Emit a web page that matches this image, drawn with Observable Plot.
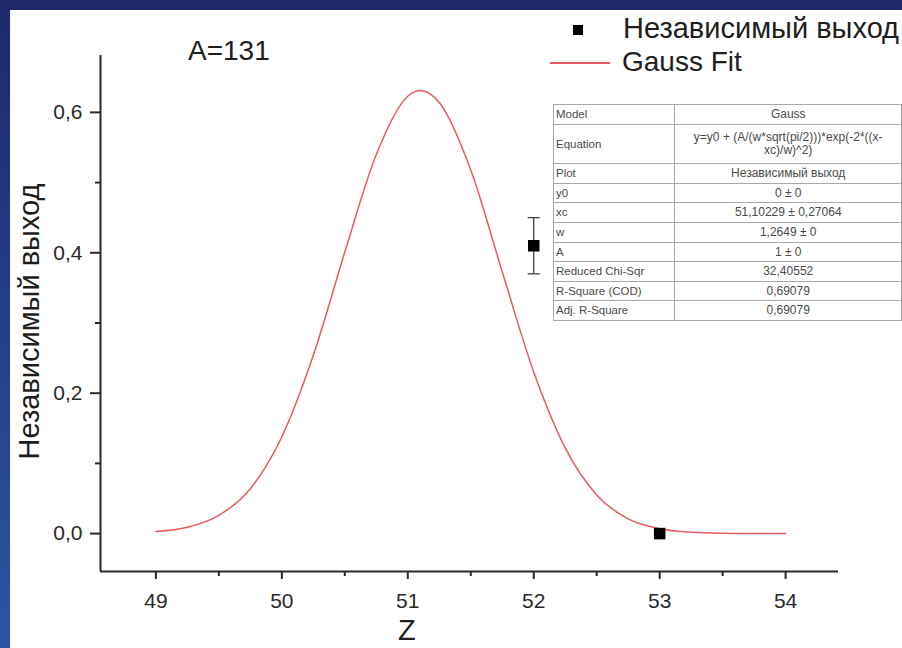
<!DOCTYPE html>
<html>
<head>
<meta charset="utf-8">
<script src="https://cdn.jsdelivr.net/npm/d3@7"></script>
<script src="https://cdn.jsdelivr.net/npm/@observablehq/plot@0.6"></script>
<style>
  html, body { margin: 0; padding: 0; }
  body {
    width: 902px; height: 648px; overflow: hidden; position: relative;
    background: linear-gradient(to bottom, #1e296b 0%, #243f8a 50%, #2b55a2 100%);
    font-family: "Liberation Sans", Arial, sans-serif; color: #1e1e1e;
  }
  #panel { position: absolute; left: 10px; top: 10px; width: 892px; height: 638px; background: #fff; }
  #chart { position: absolute; left: 0; top: 0; }
  .lbl { position: absolute; white-space: nowrap; line-height: 1; }
  #params { position: absolute; left: 553px; top: 104px; border-collapse: collapse;
    font-size: 11.5px; color: #4a4a4a; border: 1.5px solid #808080; table-layout: fixed; }
  #params td { border: 1px solid #a8a8a8; padding: 0 2px; line-height: 13px; white-space: nowrap; overflow: visible; }
  #params td.v { text-align: center; font-size: 12px; }
</style>
</head>
<body>
<div id="panel"><div id="chart"></div></div>
<script>
// ---- data ----
const seriesName = "Независимый выход";
const fitName = "Gauss Fit";
const massLabel = "A=131";
const xTitle = "Z";
const yTitle = "Независимый выход";

// measured points (Z, independent yield, error)
const pointZ = [52, 53];
const pointY = [0.41, 0.0];
const pointErr = [0.04, 0];

// Gauss fit curve
const fitZ = [49, 49.25, 49.5, 49.75, 50, 50.25, 50.5, 50.75, 51, 51.1, 51.25, 51.5, 51.75, 52, 52.25, 52.5, 52.75, 53, 53.25, 53.5, 53.75, 54];
const fitY = [0.003, 0.009, 0.026, 0.064, 0.138, 0.254, 0.401, 0.540, 0.623, 0.631, 0.614, 0.518, 0.373, 0.230, 0.122, 0.055, 0.021, 0.007, 0.002, 0.0005, 0.0001, 0.0];

// axes
const xDomain = [48.56, 54.42];
const yDomain = [-0.054, 0.681];
const xTicks = [49, 50, 51, 52, 53, 54];
const xMinorTicks = [49.5, 50.5, 51.5, 52.5, 53.5];
const yTicks = [0, 0.2, 0.4, 0.6];
const yMinorTicks = [0.1, 0.3, 0.5];

// fit parameter table
const tableKeys = ["Model", "Equation", "Plot", "y0", "xc", "w", "A", "Reduced Chi-Sqr", "R-Square (COD)", "Adj. R-Square"];
const tableVals = ["Gauss", "y=y0 + (A/(w*sqrt(pi/2)))*exp(-2*((x-\nxc)/w)^2)", "Независимый выход", "0 ± 0", "51,10229 ± 0,27064", "1,2649 ± 0", "1 ± 0", "32,40552", "0,69079", "0,69079"];

// ---- build ----
const points = pointZ.map((z, i) => ({z, y: pointY[i], e: pointErr[i]}));
const fit = fitZ.map((z, i) => ({z, y: fitY[i]}));
const errPoints = points.filter(d => d.e > 0);
const caps = errPoints.flatMap(d => [{z: d.z, y: d.y - d.e}, {z: d.z, y: d.y + d.e}]);
const capSymbol = {draw(ctx, size) { const w = Math.sqrt(size) * 0.9; ctx.moveTo(-w, 0); ctx.lineTo(w, 0); }};
const fmt = d => d.toFixed(1).replace(".", ",");
const red = "#e65a62";
const axisColor = "#2a2a2a";

const plot = Plot.plot({
  width: 892, height: 638,
  marginLeft: 90, marginRight: 64, marginTop: 45, marginBottom: 77,
  x: {domain: xDomain},
  y: {domain: yDomain},
  style: {fontFamily: "'Liberation Sans', Arial, sans-serif", background: "white", color: axisColor, overflow: "visible"},
  marks: [
    Plot.ruleX([xDomain[0]], {stroke: axisColor, strokeWidth: 2}),
    Plot.ruleY([yDomain[0]], {stroke: axisColor, strokeWidth: 2}),
    Plot.axisX({ticks: xTicks, tickSize: 8, tickPadding: 14, fontSize: 21, label: null, strokeWidth: 2, tickFormat: d => String(d)}),
    Plot.axisX({ticks: xMinorTicks, tickSize: 5, tickFormat: () => "", label: null, strokeWidth: 2}),
    Plot.axisY({ticks: yTicks, tickSize: 10, tickPadding: 8, fontSize: 21, label: null, strokeWidth: 2, tickFormat: fmt}),
    Plot.axisY({ticks: yMinorTicks, tickSize: 5, tickFormat: () => "", label: null, strokeWidth: 2}),
    Plot.line(fit, {x: "z", y: "y", stroke: red, strokeWidth: 1.5, curve: "monotone-x"}),
    Plot.ruleX(errPoints, {x: "z", y1: d => d.y - d.e, y2: d => d.y + d.e, stroke: "#333", strokeWidth: 1.2}),
    Plot.dot(caps, {x: "z", y: "y", symbol: capSymbol, r: 3.8, stroke: "#333", strokeWidth: 1.2, fill: "none"}),
    Plot.dot(points, {x: "z", y: "y", symbol: "square", r: 6.5, fill: "#000", stroke: "none"})
  ]
});
document.getElementById("chart").appendChild(plot);

// ---- text overlays ----
function addLabel(text, css) {
  const d = document.createElement("div");
  d.className = "lbl";
  d.textContent = text;
  Object.assign(d.style, css);
  document.body.appendChild(d);
  return d;
}
addLabel(massLabel, {left: "188px", top: "37px", fontSize: "28px"});
addLabel(xTitle, {left: "398px", top: "616px", fontSize: "29px"});
addLabel(yTitle, {left: "-171px", top: "307px", width: "400px", textAlign: "center", fontSize: "29px", transform: "rotate(-90deg)", transformOrigin: "center center"});

// legend
const sq = document.createElement("div");
Object.assign(sq.style, {position: "absolute", left: "573px", top: "25px", width: "10px", height: "10px", background: "#000"});
document.body.appendChild(sq);
const ln = document.createElement("div");
Object.assign(ln.style, {position: "absolute", left: "550px", top: "62px", width: "60px", height: "1.5px", background: red});
document.body.appendChild(ln);
addLabel(seriesName, {left: "623px", top: "14px", fontSize: "29px"});
addLabel(fitName, {left: "622px", top: "48px", fontSize: "28px"});

// parameter table
const rowHeights = [20, 39, 20, 19, 20, 20, 19, 20, 19, 20];
const table = document.createElement("table");
table.id = "params";
const cg = document.createElement("colgroup");
[127, 233].forEach(w => { const c = document.createElement("col"); c.style.width = w + "px"; cg.appendChild(c); });
table.appendChild(cg);
tableKeys.forEach((k, i) => {
  const tr = document.createElement("tr");
  tr.style.height = rowHeights[i] + "px";
  const a = document.createElement("td"); a.textContent = k;
  const b = document.createElement("td"); b.className = "v";
  tableVals[i].split("\n").forEach((line, j) => {
    if (j) b.appendChild(document.createElement("br"));
    b.appendChild(document.createTextNode(line));
  });
  tr.appendChild(a); tr.appendChild(b);
  table.appendChild(tr);
});
document.body.appendChild(table);
</script>
</body>
</html>
